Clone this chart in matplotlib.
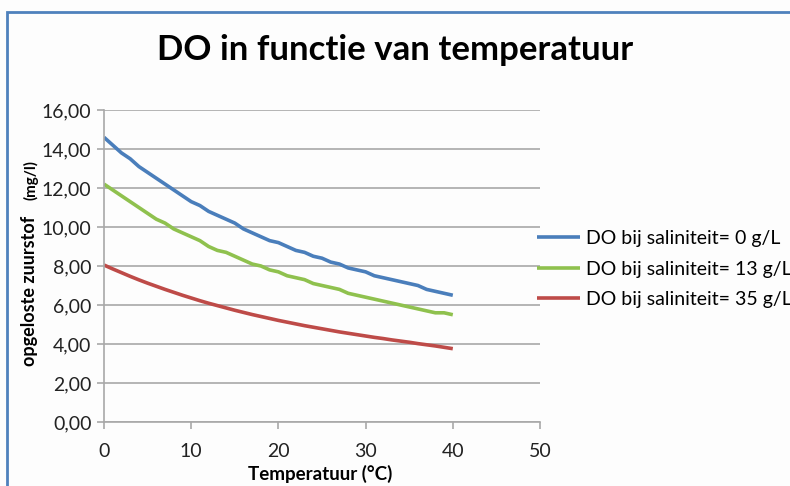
import numpy as np
import matplotlib
matplotlib.use('Agg')
import matplotlib.pyplot as plt
from matplotlib.patches import Rectangle
from matplotlib.ticker import FuncFormatter

plt.rcParams['font.family'] = ['Lato', 'DejaVu Sans']

temp = list(range(0, 41))
do_0 = [14.6, 14.2, 13.8, 13.5, 13.1, 12.8, 12.5, 12.2, 11.9, 11.6,
        11.3, 11.1, 10.8, 10.6, 10.4, 10.2, 9.9, 9.7, 9.5, 9.3,
        9.2, 9.0, 8.8, 8.7, 8.5, 8.4, 8.2, 8.1, 7.9, 7.8,
        7.7, 7.5, 7.4, 7.3, 7.2, 7.1, 7.0, 6.8, 6.7, 6.6, 6.5]
do_13 = [12.2, 11.9, 11.6, 11.3, 11.0, 10.7, 10.4, 10.2, 9.9, 9.7,
         9.5, 9.3, 9.0, 8.8, 8.7, 8.5, 8.3, 8.1, 8.0, 7.8,
         7.7, 7.5, 7.4, 7.3, 7.1, 7.0, 6.9, 6.8, 6.6, 6.5,
         6.4, 6.3, 6.2, 6.1, 6.0, 5.9, 5.8, 5.7, 5.6, 5.6, 5.5]
do_35 = [8.05, 7.85, 7.66, 7.47, 7.29, 7.12, 6.96, 6.80, 6.65, 6.50,
         6.36, 6.22, 6.09, 5.97, 5.85, 5.73, 5.62, 5.51, 5.41, 5.31,
         5.21, 5.12, 5.03, 4.94, 4.86, 4.78, 4.70, 4.62, 4.55, 4.48,
         4.41, 4.34, 4.28, 4.21, 4.15, 4.09, 4.02, 3.96, 3.90, 3.83, 3.76]
labels = ['DO bij saliniteit= 0 g/L', 'DO bij saliniteit= 13 g/L', 'DO bij saliniteit= 35 g/L']
colors = ['#4a7ebb', '#8fc14e', '#be4b48']

fig = plt.figure(figsize=(7.9, 4.86), dpi=100)
fig.patch.set_facecolor('#fdfdfd')
# blauwe kader rond de grafiek
fig.patches.append(Rectangle((7/790, -0.1), 1.2, 0.1 + 1 - 12/486, transform=fig.transFigure,
                             fill=False, edgecolor='#4f81bd', linewidth=2))

ax = fig.add_axes([104/790, 1 - 422/486, 436/790, 312/486])
ax.set_facecolor('#fdfdfd')

for y, lab, c in zip([do_0, do_13, do_35], labels, colors):
    ax.plot(temp, y, color=c, linewidth=2.6, label=lab, solid_capstyle='butt')

ax.set_xlim(0, 50)
ax.set_ylim(0, 16)
ax.set_xticks(range(0, 51, 10))
ax.set_yticks(range(0, 17, 2))
ax.yaxis.set_major_formatter(FuncFormatter(lambda v, p: f'{v:.2f}'.replace('.', ',')))
ax.grid(axis='y', color='#a8a8a8', linewidth=1.2)
ax.set_axisbelow(True)
for s in ['top', 'right']:
    ax.spines[s].set_visible(False)
for s in ['left', 'bottom']:
    ax.spines[s].set_color('#a8a8a8')
    ax.spines[s].set_linewidth(1.2)
ax.tick_params(axis='both', direction='out', length=5, width=1.2, color='#a8a8a8',
               labelsize=14, labelcolor='#222222')
ax.tick_params(axis='x', pad=10)
ax.tick_params(axis='y', pad=4)

fig.text(0.5, 1 - 50/486, 'DO in functie van temperatuur', ha='center', va='center',
         fontsize=25, fontweight='bold')
fig.text(320/790, 1 - 474/486, 'Temperatuur (°C)', ha='center', va='center',
         fontsize=13.5, fontweight='bold')
fig.text(30/790, 1 - 366/486, 'opgeloste zuurstof', rotation=90, ha='center', va='bottom',
         fontsize=13, fontweight='bold')
fig.text(31/790, 1 - 200/486, '(mg/l)', rotation=90, ha='center', va='bottom',
         fontsize=11, fontweight='bold')

ax.legend(loc='upper left', bbox_to_anchor=(537/790, 1 - 230/486), bbox_transform=fig.transFigure,
          frameon=False, fontsize=14, handlelength=2.2, handletextpad=0.3, labelspacing=0.7,
          borderpad=0, borderaxespad=0)

fig.savefig('out.png', dpi=100, facecolor=fig.get_facecolor())
